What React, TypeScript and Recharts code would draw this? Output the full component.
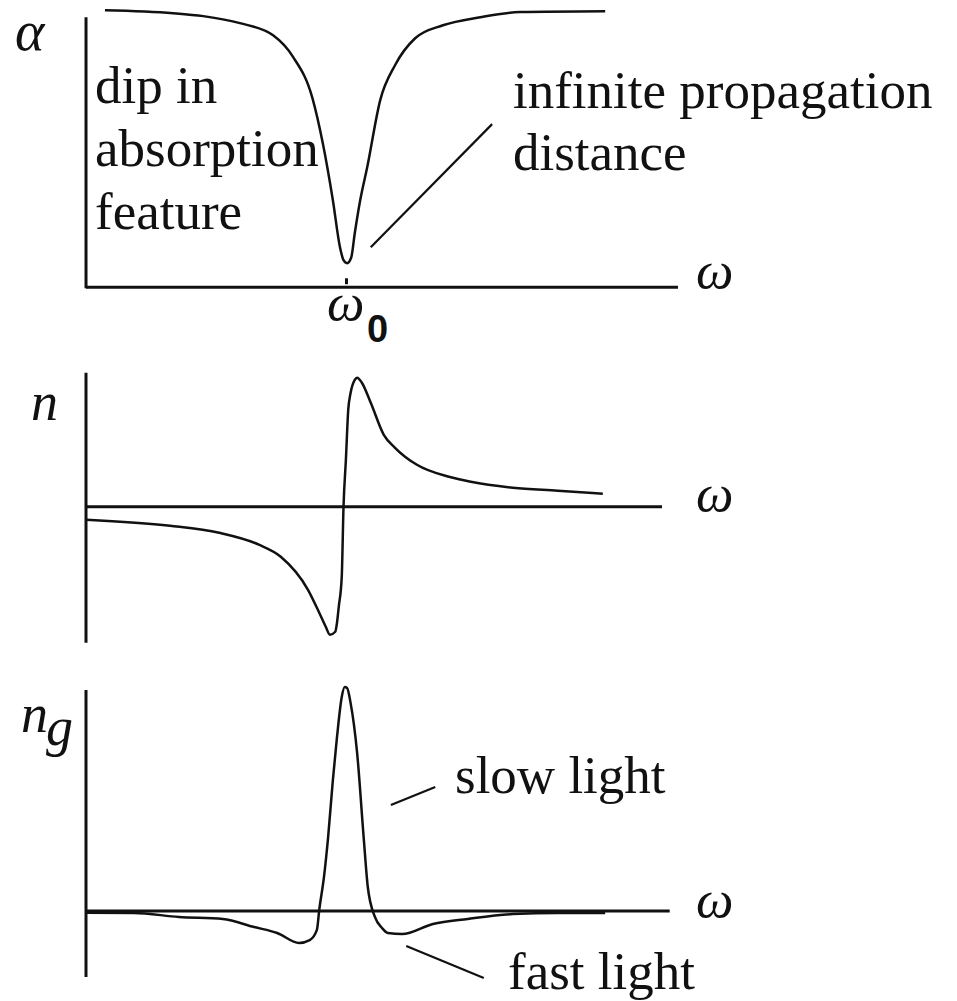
import React from 'react';
import { LineChart, Line, XAxis, YAxis, ReferenceLine } from 'recharts';

// ω in arbitrary units: 0 = vertical axis, 100 = end of the top ω axis
// absorption α (0 = axis, 100 = top of the α axis)
const alphaOmega = [3.2, 14.7, 19.8, 26, 31.6, 35, 38.2, 40, 41.7, 42.9, 43.5, 44.1, 44.8, 45.4, 46.3, 47.5, 49.7, 52.2, 55.6, 60.3, 66.6, 73.3, 87.7];
const alphaValues = [102.6, 101.5, 100.4, 97.8, 93.3, 85.2, 70.4, 53.3, 32.2, 14.8, 10, 8.9, 11, 20, 32, 44.4, 69.3, 82.2, 92.2, 97, 100, 101.9, 102.2];

// refractive index n
const nOmega = [0, 14.2, 22.5, 29.2, 32.9, 37.5, 39.4, 40.5, 41.2, 42.1, 42.4, 42.7, 43.2, 43.5, 43.9, 44.3, 44.7, 45.4, 45.8, 46.6, 48.1, 50.3, 52.2, 55.9, 61.3, 65, 72.1, 79.7, 87.3];
const nValues = [-9.6, -14.1, -19.3, -28.1, -37, -61.5, -78.5, -88.9, -94.8, -92.6, -85.9, -74, -51.9, 0, 34.8, 71.9, 84.4, 94, 95.6, 91.9, 77, 53.3, 43.7, 31.1, 22.2, 18.5, 14.1, 11.9, 9.6];

// group index n_g
const ngOmega = [0, 8.1, 15.7, 23.1, 28.4, 32.3, 36, 37.8, 39, 39.4, 40.2, 40.9, 41.7, 42.4, 43.2, 43.7, 44.1, 44.7, 45.8, 46.9, 47.6, 48.8, 50, 51, 53.4, 58.6, 64.5, 72.1, 79.7, 87.7];
const ngValues = [-0.8, -0.9, -2.7, -3.6, -7.3, -10, -14.5, -13.2, -8.6, 0.5, 15.5, 33.6, 59.5, 79.1, 97.3, 101.8, 101.4, 94.5, 71.8, 33.6, 10.9, -2.7, -7.7, -10, -10.5, -5.9, -3.6, -1.4, -0.9, -0.9];

const zip = (xs: number[], ys: number[]) => xs.map((w, i) => ({ w, v: ys[i] }));

type Seg = [{ x: number; y: number }, { x: number; y: number }];

interface PanelProps {
  data: { w: number; v: number }[];
  yDomain: [number, number];
  top: number;
  height: number;
  segments: Seg[];
  thin?: Seg[];
}

const Panel = ({ data, yDomain, top, height, segments, thin = [] }: PanelProps) => (
  <div style={{ position: 'absolute', left: 0, top, width: 957, height }}>
    <LineChart width={957} height={height} data={data} margin={{ top: 0, right: 279, bottom: 0, left: 86 }}>
      <XAxis type="number" dataKey="w" domain={[0, 100]} hide allowDataOverflow />
      <YAxis type="number" domain={yDomain} hide allowDataOverflow />
      {segments.map((s, i) => (
        <ReferenceLine key={`a${i}`} segment={s} stroke="#111" strokeWidth={3} ifOverflow="visible" />
      ))}
      {thin.map((s, i) => (
        <ReferenceLine key={`p${i}`} segment={s} stroke="#111" strokeWidth={2.2} ifOverflow="visible" />
      ))}
      <Line type="monotone" dataKey="v" stroke="#111" strokeWidth={2.5} dot={false} isAnimationActive={false} />
    </LineChart>
  </div>
);

const serif = '"Liberation Serif", "Times New Roman", serif';

export default function App() {
  return (
    <div style={{ position: 'absolute', left: 0, top: 0, width: 957, height: 1001, background: '#fff', overflow: 'hidden' }}>
      <Panel
        data={zip(alphaOmega, alphaValues)}
        yDomain={[-10, 106]}
        top={0.8}
        height={313.2}
        segments={[
          [{ x: 0, y: -0.4 }, { x: 0, y: 100 }],
          [{ x: 0, y: 0 }, { x: 100, y: 0 }],
          [{ x: 44, y: 1.1 }, { x: 44, y: 3.3 }],
        ]}
        thin={[[{ x: 48.1, y: 14.8 }, { x: 68.6, y: 60.4 }]]}
      />
      <Panel
        data={zip(nOmega, nValues)}
        yDomain={[-110, 105]}
        top={365.25}
        height={290.25}
        segments={[
          [{ x: 0, y: -100.7 }, { x: 0, y: 99.3 }],
          [{ x: 0, y: 0 }, { x: 97.3, y: 0 }],
        ]}
      />
      <Panel
        data={zip(ngOmega, ngValues)}
        yDomain={[-40, 105]}
        top={680}
        height={319}
        segments={[
          [{ x: 0, y: -30 }, { x: 0, y: 100.5 }],
          [{ x: 0, y: 0 }, { x: 98.6, y: 0 }],
        ]}
        thin={[
          [{ x: 51.5, y: 48.2 }, { x: 59, y: 56.4 }],
          [{ x: 54.1, y: -15.9 }, { x: 67.2, y: -30.5 }],
        ]}
      />
      <svg width={957} height={1001} style={{ position: 'absolute', left: 0, top: 0, pointerEvents: 'none' }}>
        <g fontFamily={serif} fontSize={53} fill="#111">
          <text x={15} y={50} fontStyle="italic" fontSize={56}>α</text>
          <text x={95} y={103}>dip in</text>
          <text x={95} y={166}>absorption</text>
          <text x={95} y={229}>feature</text>
          <text x={513} y={108}>infinite propagation</text>
          <text x={513} y={170}>distance</text>
          <text x={696} y={288} fontStyle="italic">ω</text>
          <text x={327} y={320} fontStyle="italic">ω</text>
          <text x={31} y={420} fontStyle="italic" fontSize={54}>n</text>
          <text x={696} y={511} fontStyle="italic">ω</text>
          <text x={21} y={732} fontStyle="italic" fontSize={54}>n</text>
          <text x={46} y={745} fontStyle="italic" fontSize={54}>g</text>
          <text x={455} y={793}>slow light</text>
          <text x={696} y={917} fontStyle="italic">ω</text>
          <text x={508} y={989}>fast light</text>
        </g>
        <text x={367} y={342} fontFamily='"Liberation Sans", Arial, sans-serif' fontWeight="bold" fontSize={38} fill="#111">0</text>
      </svg>
    </div>
  );
}
